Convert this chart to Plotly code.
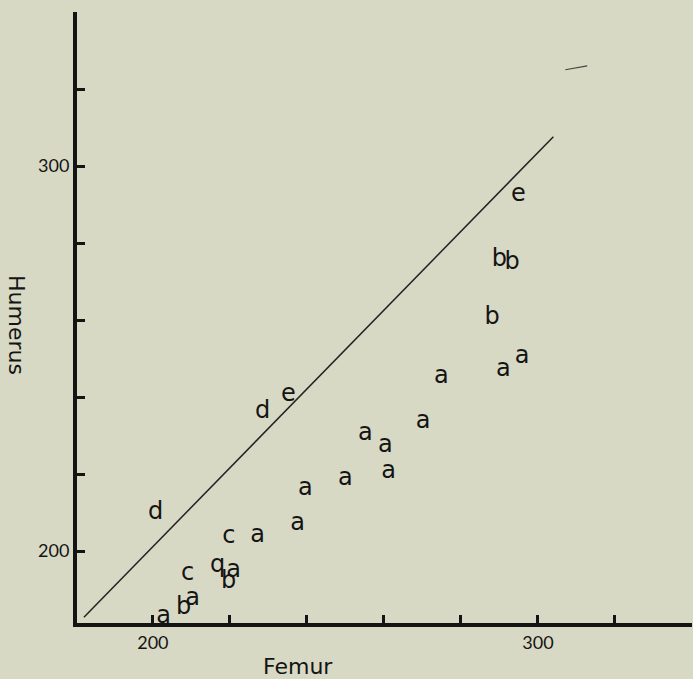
import plotly.graph_objects as go

# Data (Femur vs Humerus), labelled by group letter
a_femur   = [202.8, 210.3, 221.0, 227.2, 237.6, 239.6, 250.0, 255.2, 260.4, 261.2, 270.2, 274.9, 291.0, 295.9]
a_humerus = [182.8, 187.5, 194.7, 203.8, 206.9, 216.0, 218.6, 230.3, 227.2, 220.4, 233.4, 245.1, 246.9, 250.5]
b_femur   = [208.0, 219.7, 288.1, 290.0, 293.3]
b_humerus = [185.1, 191.9, 260.6, 275.7, 274.9]
c_femur   = [209.0, 219.7]
c_humerus = [194.0, 203.6]
d_femur   = [200.7, 228.5]
d_humerus = [210.0, 236.0]
e_femur   = [235.2, 294.9]
e_humerus = [240.6, 292.5]
q_femur   = [216.8]
q_humerus = [196.0]

line_femur   = [182.1, 304.0]
line_humerus = [182.8, 307.6]

stray_x = [307.1, 312.8]
stray_y = [325.0, 326.0]

x_ticks = [200, 220, 240, 260, 280, 300, 320, 340]
x_ticktext = ["200", "", "", "", "", "300", "", ""]
y_ticks = [200, 220, 240, 260, 280, 300, 320]
y_ticktext = ["200", "", "", "", "", "300", ""]

BG = "#d8d9c4"
INK = "#141414"
FONT = "DejaVu Sans"
TICKFONT = "Lato"

fig = go.Figure()

fig.add_trace(go.Scatter(x=line_femur, y=line_humerus, mode="lines",
                         line=dict(color="#222222", width=1.5), hoverinfo="skip"))
fig.add_trace(go.Scatter(x=stray_x, y=stray_y, mode="lines",
                         line=dict(color="#444444", width=1.2), hoverinfo="skip"))

for xs, ys, lab in [(a_femur, a_humerus, "a"), (b_femur, b_humerus, "b"),
                    (c_femur, c_humerus, "c"), (d_femur, d_humerus, "d"),
                    (e_femur, e_humerus, "e"), (q_femur, q_humerus, "q")]:
    fig.add_trace(go.Scatter(x=xs, y=ys, mode="text", text=[lab] * len(xs),
                             textposition="middle center",
                             textfont=dict(family=FONT, size=24, color=INK),
                             name=lab))

fig.update_layout(
    width=693, height=679,
    margin=dict(l=77, r=1, t=12, b=56),
    paper_bgcolor=BG, plot_bgcolor=BG,
    showlegend=False,
    font=dict(family=FONT, color=INK),
)

fig.update_xaxes(range=[180.3, 340], showgrid=False, zeroline=False,
                 showline=True, linewidth=4, linecolor=INK,
                 ticks="inside", ticklen=8, tickwidth=3, tickcolor=INK,
                 tickvals=x_ticks, ticktext=x_ticktext,
                 tickfont=dict(family=TICKFONT, size=18, color=INK))
fig.update_yaxes(range=[181.3, 340], showgrid=False, zeroline=False,
                 showline=True, linewidth=4, linecolor=INK,
                 ticks="inside", ticklen=8, tickwidth=3, tickcolor=INK,
                 tickvals=y_ticks, ticktext=y_ticktext,
                 tickfont=dict(family=TICKFONT, size=18, color=INK))

fig.add_annotation(text="Femur", xref="paper", yref="paper",
                   x=(298 - 77) / 615, y=(623 - 666) / 611,
                   showarrow=False, xanchor="center", yanchor="middle",
                   font=dict(family=FONT, size=22, color=INK))
fig.add_annotation(text="Humerus", xref="paper", yref="paper",
                   x=(16 - 77) / 615, y=(623 - 325) / 611,
                   showarrow=False, xanchor="center", yanchor="middle",
                   textangle=90,
                   font=dict(family=FONT, size=22, color=INK))

fig.write_html("out.html", config={"displayModeBar": False},
               post_script="document.body.style.margin='0';document.body.style.background='" + BG + "';")
